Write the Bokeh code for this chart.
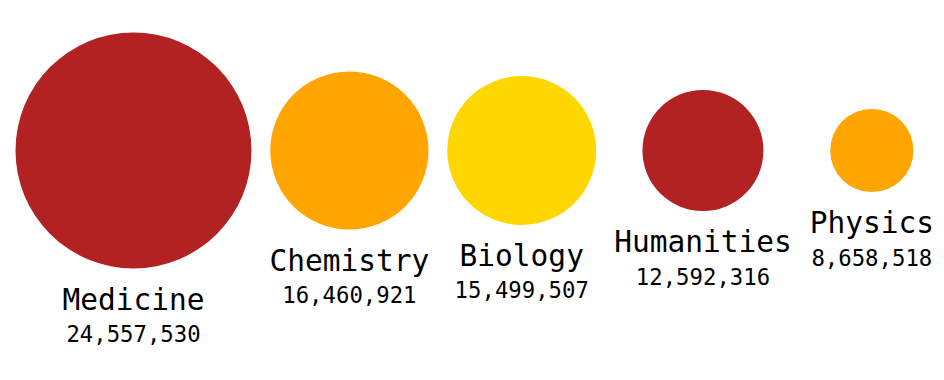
from bokeh.plotting import figure
from bokeh.models import ColumnDataSource, Range1d
from bokeh.core.properties import value
from bokeh.embed import file_html
from bokeh.resources import INLINE

categories = ["Medicine", "Chemistry", "Biology", "Humanities", "Physics"]
amounts = [24557530, 16460921, 15499507, 12592316, 8658518]
colors = ["#B22222", "#FFA500", "#FFD700", "#B22222", "#FFA500"]

# layout parameters (pixels == data units)
W, H = 936, 372
max_r = 118.0
center_y = 150.0
left = 15.0
gap = 18.0
name_char_w = 17.75
name_size = 29.5
num_size = 22.3
name_off = 31
num_off = 65

k = max_r / max(amounts)
radii = [a * k for a in amounts]
xs, ys, name_y, num_y = [], [], [], []
cur = left
for cat, r in zip(categories, radii):
    w = max(2 * r, len(cat) * name_char_w)
    xs.append(cur + w / 2)
    cur += w + gap
    ys.append(center_y)
    name_y.append(center_y + r + name_off)
    num_y.append(center_y + r + num_off)

src = ColumnDataSource(dict(
    x=xs, y=ys, r=radii, color=colors, name=categories,
    num=[f"{a:,}" for a in amounts], name_y=name_y, num_y=num_y,
))

p = figure(width=W, height=H, output_backend="svg", toolbar_location=None,
           x_range=Range1d(0, W), y_range=Range1d(H, 0),
           x_axis_type=None, y_axis_type=None, min_border=0)
p.outline_line_color = None
p.grid.visible = False
p.background_fill_color = "white"
p.border_fill_color = "white"

p.circle(x="x", y="y", radius="r", fill_color="color", line_color=None, source=src)
p.text(x="x", y="name_y", text="name", source=src, text_align="center",
       text_baseline="alphabetic", text_font=value("DejaVu Sans Mono"),
       text_font_size=value(f"{name_size}px"), text_color="#000000")
p.text(x="x", y="num_y", text="num", source=src, text_align="center",
       text_baseline="alphabetic", text_font=value("DejaVu Sans Mono"),
       text_font_size=value(f"{num_size}px"), text_color="#000000")

open("out.html", "w").write(file_html(p, INLINE))
